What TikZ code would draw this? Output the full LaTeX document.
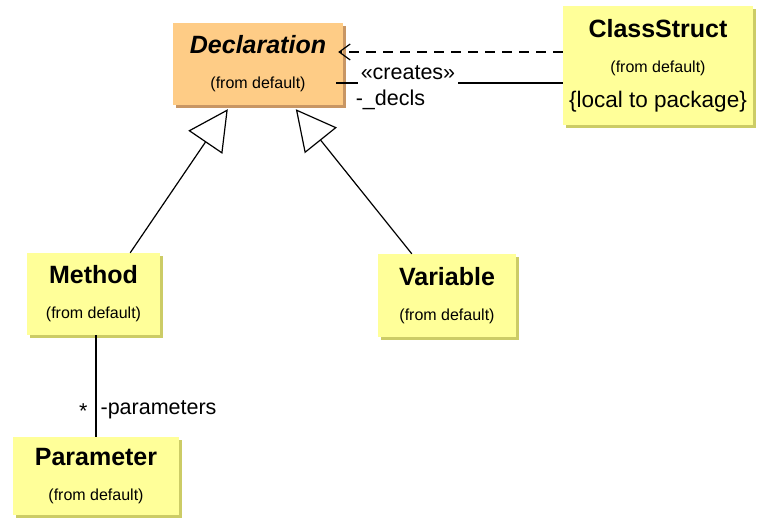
\documentclass[tikz,border=0pt]{standalone}
\usepackage{fontspec}
\setmainfont{Liberation Sans}
\usetikzlibrary{arrows.meta,shadows}

\definecolor{declfill}{RGB}{254,204,134}
\definecolor{declshade}{RGB}{200,150,100}
\definecolor{classfill}{RGB}{255,255,153}
\definecolor{classshade}{RGB}{204,204,102}

\newcommand{\titlefont}{\fontsize{25}{35}\selectfont\bfseries}
\newcommand{\subfont}{\fontsize{16}{35}\selectfont}

\begin{document}
\begin{tikzpicture}[x=1pt,y=-1pt,
	classbox/.style={
		% The shape:
		rectangle, inner sep=0pt, align=center,
		% No border, only the filling and a shadow at the right and bottom
		fill=classfill,
		drop shadow={shadow xshift=3pt, shadow yshift=-3pt, fill=classshade, opacity=1},
		% Font
		font=\subfont
		},
	declbox/.style={
		classbox,
		fill=declfill,
		drop shadow={shadow xshift=3pt, shadow yshift=-3pt, fill=declshade, opacity=1}
		},
	generalize/.style={-{Triangle[open,fill=white,length=40pt,width=41pt]}, line width=1.2pt},
	depend/.style={-{Straight Barb[length=11pt,width=16pt]}, line width=1.2pt, dash pattern=on 10pt off 7pt},
	assoc/.style={line width=1.2pt},
	rolename/.style={inner sep=0pt, font=\fontsize{21.5}{24}\selectfont}]

	\useasboundingbox (0,0) rectangle (757,521);

	\node (decl) [declbox, minimum width=170, minimum height=82] at (258,64)
		{{\titlefont\itshape Declaration}\\(from default)};
	\node (cs) [classbox, minimum width=190, minimum height=119] at (658,65.5)
		{{\titlefont ClassStruct}\\(from default)\\{\fontsize{22.5}{35}\selectfont \{local to package\}}};
	\node (method) [classbox, minimum width=133, minimum height=82] at (93.5,294)
		{{\titlefont Method}\\(from default)};
	\node (var) [classbox, minimum width=138, minimum height=83] at (447,295.5)
		{{\titlefont Variable}\\(from default)};
	\node (param) [classbox, minimum width=166, minimum height=78] at (96,476)
		{{\titlefont Parameter}\\(from default)};

	% generalizations
	\path ([xshift=-30pt]method.north east) edge[generalize] ([shift={(55pt,-4pt)}]decl.south west);
	\path ([xshift=34pt]var.north west) edge[generalize] ([shift={(123pt,-4pt)}]decl.south west);

	% ClassStruct creates declarations
	\coordinate (depstart) at ([yshift=13.5pt]cs.west);
	\coordinate (assocstart) at ([yshift=-17.5pt]cs.west);
	\path (depstart) edge[depend, shorten >=-5pt] (depstart -| decl.east);
	\path (assocstart) edge[assoc, shorten >=-7pt]
		node[rolename, pos=0.705, anchor=base, yshift=3pt, fill=white, inner xsep=3pt, inner ysep=4pt] {«creates»}
		node[rolename, pos=1, anchor=base west, xshift=12pt, yshift=-23pt] {-\_decls}
		(assocstart -| decl.east);

	% method parameters
	\path (param.north |- method.south) edge[assoc]
		node[rolename, pos=0.82, anchor=base east, xshift=-8pt] {*}
		node[rolename, pos=0.785, anchor=base west, xshift=4pt] {-parameters}
		(param.north);

\end{tikzpicture}
\end{document}
